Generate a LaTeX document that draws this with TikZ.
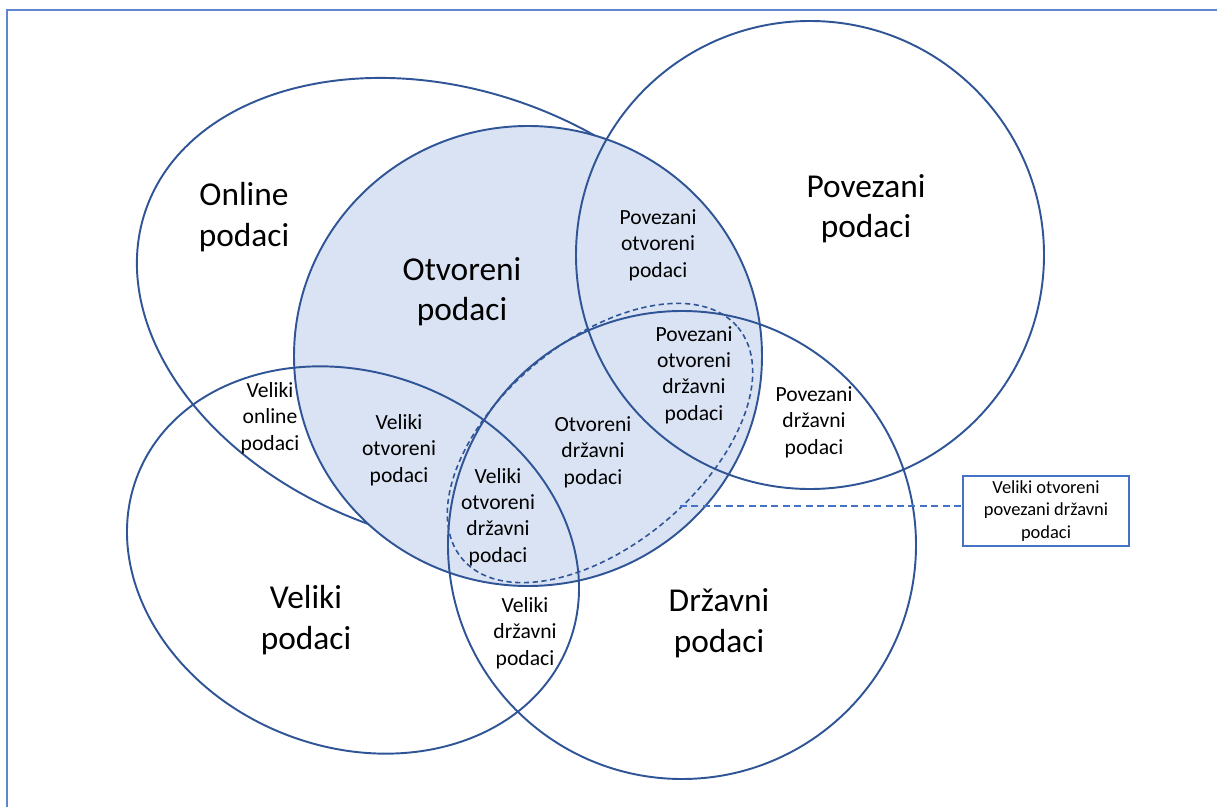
\documentclass[tikz,border=0pt]{standalone}
\usepackage{fontspec}
\setmainfont{Carlito}
\usetikzlibrary{calc}
\definecolor{setblue}{HTML}{2F5597}
\definecolor{openfill}{HTML}{DAE3F3}
\definecolor{boxblue}{HTML}{4472C4}

\begin{document}
\begin{tikzpicture}[x=0.02cm,y=-0.02cm,
    setline/.style={line width=1.1pt,draw=setblue},
    bigtext/.style={align=center,inner sep=0pt,font=\fontsize{19}{23}\selectfont},
    smalltext/.style={align=center,inner sep=0pt,font=\fontsize{12.3}{15}\selectfont}]
\useasboundingbox (0,0) rectangle (1217,807);
\draw[boxblue!85,line width=0.9pt] (7,807)--(7,10)--(1217,10);
\draw[setline,rotate around={-19:(447,314)}] (447,314) ellipse [x radius=318.7,y radius=224.2];
\draw[setline,fill=openfill] (528,356) ellipse [x radius=234,y radius=230];
\draw[setline] (810,255) circle [radius=234];
\draw[setline,rotate around={-21.6:(353,560)}] (353,560) ellipse [x radius=231.5,y radius=187];
\draw[setline] (682,545) circle [radius=234];
\draw[setline,dashed,dash pattern=on 3pt off 2pt,line width=0.9pt,rotate around={40:(600,443)}] (600,443) ellipse [x radius=180,y radius=102];

\node[bigtext] (online) at (244,217) {Online\\podaci};
\node[bigtext] (otvoreni) at (462,292) {Otvoreni\\podaci};
\node[bigtext] (povezani) at (866,209) {Povezani\\podaci};
\node[bigtext] (veliki) at (306,620) {Veliki\\podaci};
\node[bigtext] (drzavni) at (719,623) {Državni\\podaci};

\node[smalltext] (povotv) at (658,245) {Povezani\\otvoreni\\podaci};
\node[smalltext] (povotvdrz) at (694,375) {Povezani\\otvoreni\\državni\\podaci};
\node[smalltext] (velonl) at (270,418) {Veliki\\online\\podaci};
\node[smalltext] (velotv) at (399,450) {Veliki\\otvoreni\\podaci};
\node[smalltext] (otvdrz) at (593,452) {Otvoreni\\državni\\podaci};
\node[smalltext] (velotvdrz) at (498,517) {Veliki\\otvoreni\\državni\\podaci};
\node[smalltext] (povdrz) at (814,422) {Povezani\\državni\\podaci};
\node[smalltext] (veldrz) at (525,633) {Veliki\\državni\\podaci};

\node[draw=boxblue,line width=0.9pt,fill=white,align=center,inner sep=0pt,
  minimum width=3.32cm,minimum height=1.4cm,font=\fontsize{10.5}{12.8}\selectfont]
  (sviskup) at (1046,511) {Veliki otvoreni\\povezani državni\\podaci};
\coordinate (dashend) at (680,506);
\draw[boxblue,line width=0.9pt,dashed,dash pattern=on 4pt off 2.5pt] (dashend) -- (dashend -| sviskup.west);
\end{tikzpicture}
\end{document}
